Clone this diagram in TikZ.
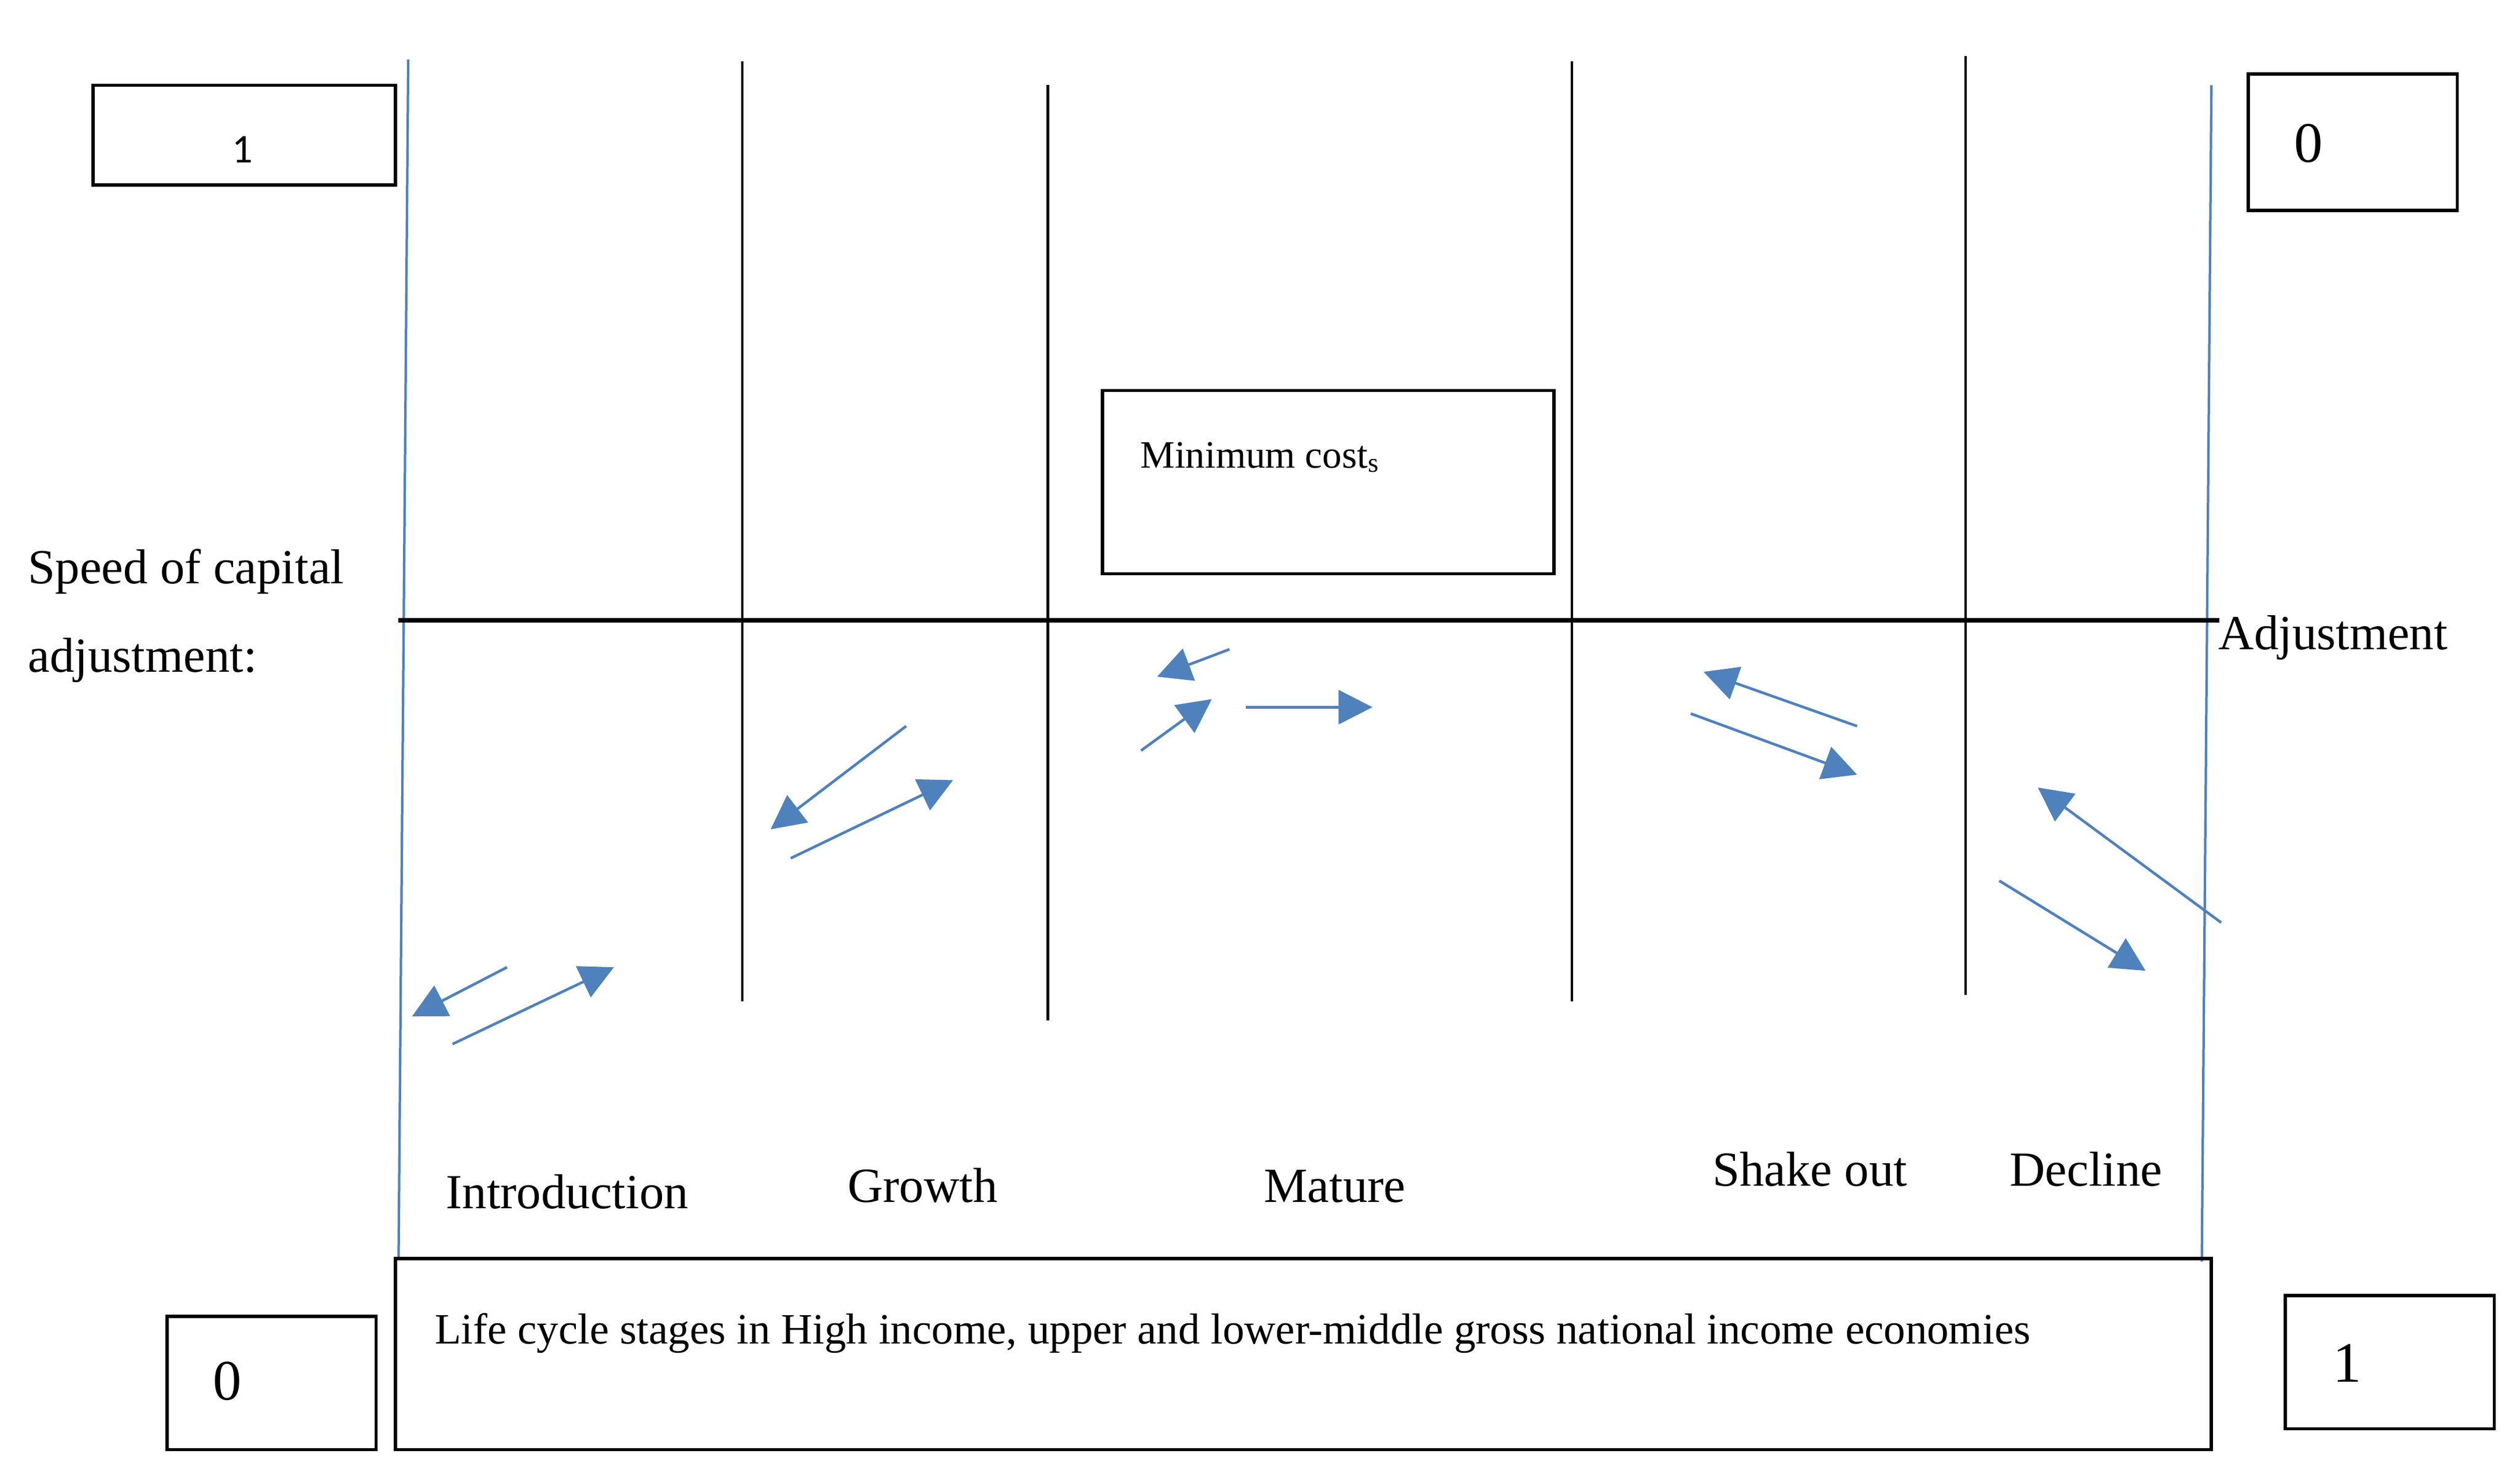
\documentclass[tikz,border=0pt]{standalone}
\usepackage{fontspec}
\setmainfont{Liberation Serif}
\newfontfamily\calfont{Carlito}
\usetikzlibrary{arrows.meta, positioning}
\definecolor{lineblue}{RGB}{79, 129, 189}
\tikzset{
    stagelabel/.style={
        font=\fontsize{12}{14}\selectfont, inner sep=0pt, anchor=base west
    },
    numlabel/.style={
        font=\fontsize{14}{16}\selectfont, inner sep=0pt, anchor=base west
    },
    framebox/.style={
        draw, line width=0.8pt
    },
    divider/.style={
        draw, line width=0.6pt
    },
    flow/.style={
        -{Triangle[length=8.3pt, width=8.3pt]}, lineblue, line width=0.65pt
    }
}

\begin{document}
\begin{tikzpicture}[x=0.1382mm, y=-0.1382mm]
    \useasboundingbox (0,0) rectangle (1568,914);

    % ======================================
    % Stage frame
    % ======================================
    \draw[lineblue, line width=0.6pt] (254,37) -- (248,783);
    \draw[lineblue, line width=0.6pt] (1376,53) -- (1370,785);
    \foreach \x/\top/\bot in {462/38/623, 652/53/635, 978/38/623, 1223/35/619}
        \draw[divider] (\x,\top) -- (\x,\bot);
    \draw[line width=1.1pt] (248,386) -- (1381,386);

    % boxes
    \draw[framebox] (58,53) rectangle (246,115);
    \draw[framebox] (1399,46) rectangle (1529,131);
    \draw[framebox] (104,819) rectangle (234,902);
    \draw[framebox] (1422,806) rectangle (1552,889);
    \draw[framebox] (686,243) rectangle (967,357);
    \draw[framebox] (246,783) rectangle (1376,902);

    % ======================================
    % Labels
    % ======================================
    \node[inner sep=0pt, font=\calfont\fontsize{10}{12}\selectfont] (topone) at (151,93) {1};
    \node[numlabel] (topzero) at (1427,101) {0};
    \node[numlabel] (botzero) at (132,871) {0};
    \node[numlabel] (botone) at (1451,860) {1};

    \node[stagelabel] (speed) at (17,363) {Speed of capital};
    \node[stagelabel] (adjl) at (17,418) {adjustment:};
    \node[stagelabel] (adjr) at (1380,404) {Adjustment};
    \node[inner sep=0pt, anchor=base west, font=\fontsize{9.5}{11}\selectfont] (mincost) at (709,291) {Minimum cost\textsubscript{s}};

    \node[stagelabel] (intro) at (277,752) {Introduction};
    \node[stagelabel] (growth) at (527,748) {Growth};
    \node[stagelabel] (mature) at (786,748) {Mature};
    \node[stagelabel] (shake) at (1065,738) {Shake out};
    \node[stagelabel] (decline) at (1250,738) {Decline};

    \node[inner sep=0pt, anchor=base west, font=\fontsize{10.6}{12}\selectfont] (caption) at (270,836)
        {Life cycle stages in High income, upper and lower-middle gross national income economies};

    % ======================================
    % Adjustment arrows
    % ======================================
    \foreach \n/\a/\b in {
        introA/{315.5,601.8}/{256.4,632.4}, introB/{281.6,649.6}/{382,601.8},
        growA/{563.8,451.8}/{479.5,516}, growB/{492,534}/{593,485.4},
        matA/{765,404}/{720,421}, matB/{710,467}/{754,435}, matC/{775,440}/{854,440},
        shakeA/{1155.5,451.8}/{1060,418}, shakeB/{1052,444}/{1155.5,482},
        decA/{1382,574}/{1268,490}, decB/{1244,548}/{1335,604}}
    {
        \coordinate (\n-s) at (\a);
        \coordinate (\n-e) at (\b);
        \draw[flow] (\n-s) -- (\n-e);
    }

\end{tikzpicture}
\end{document}
